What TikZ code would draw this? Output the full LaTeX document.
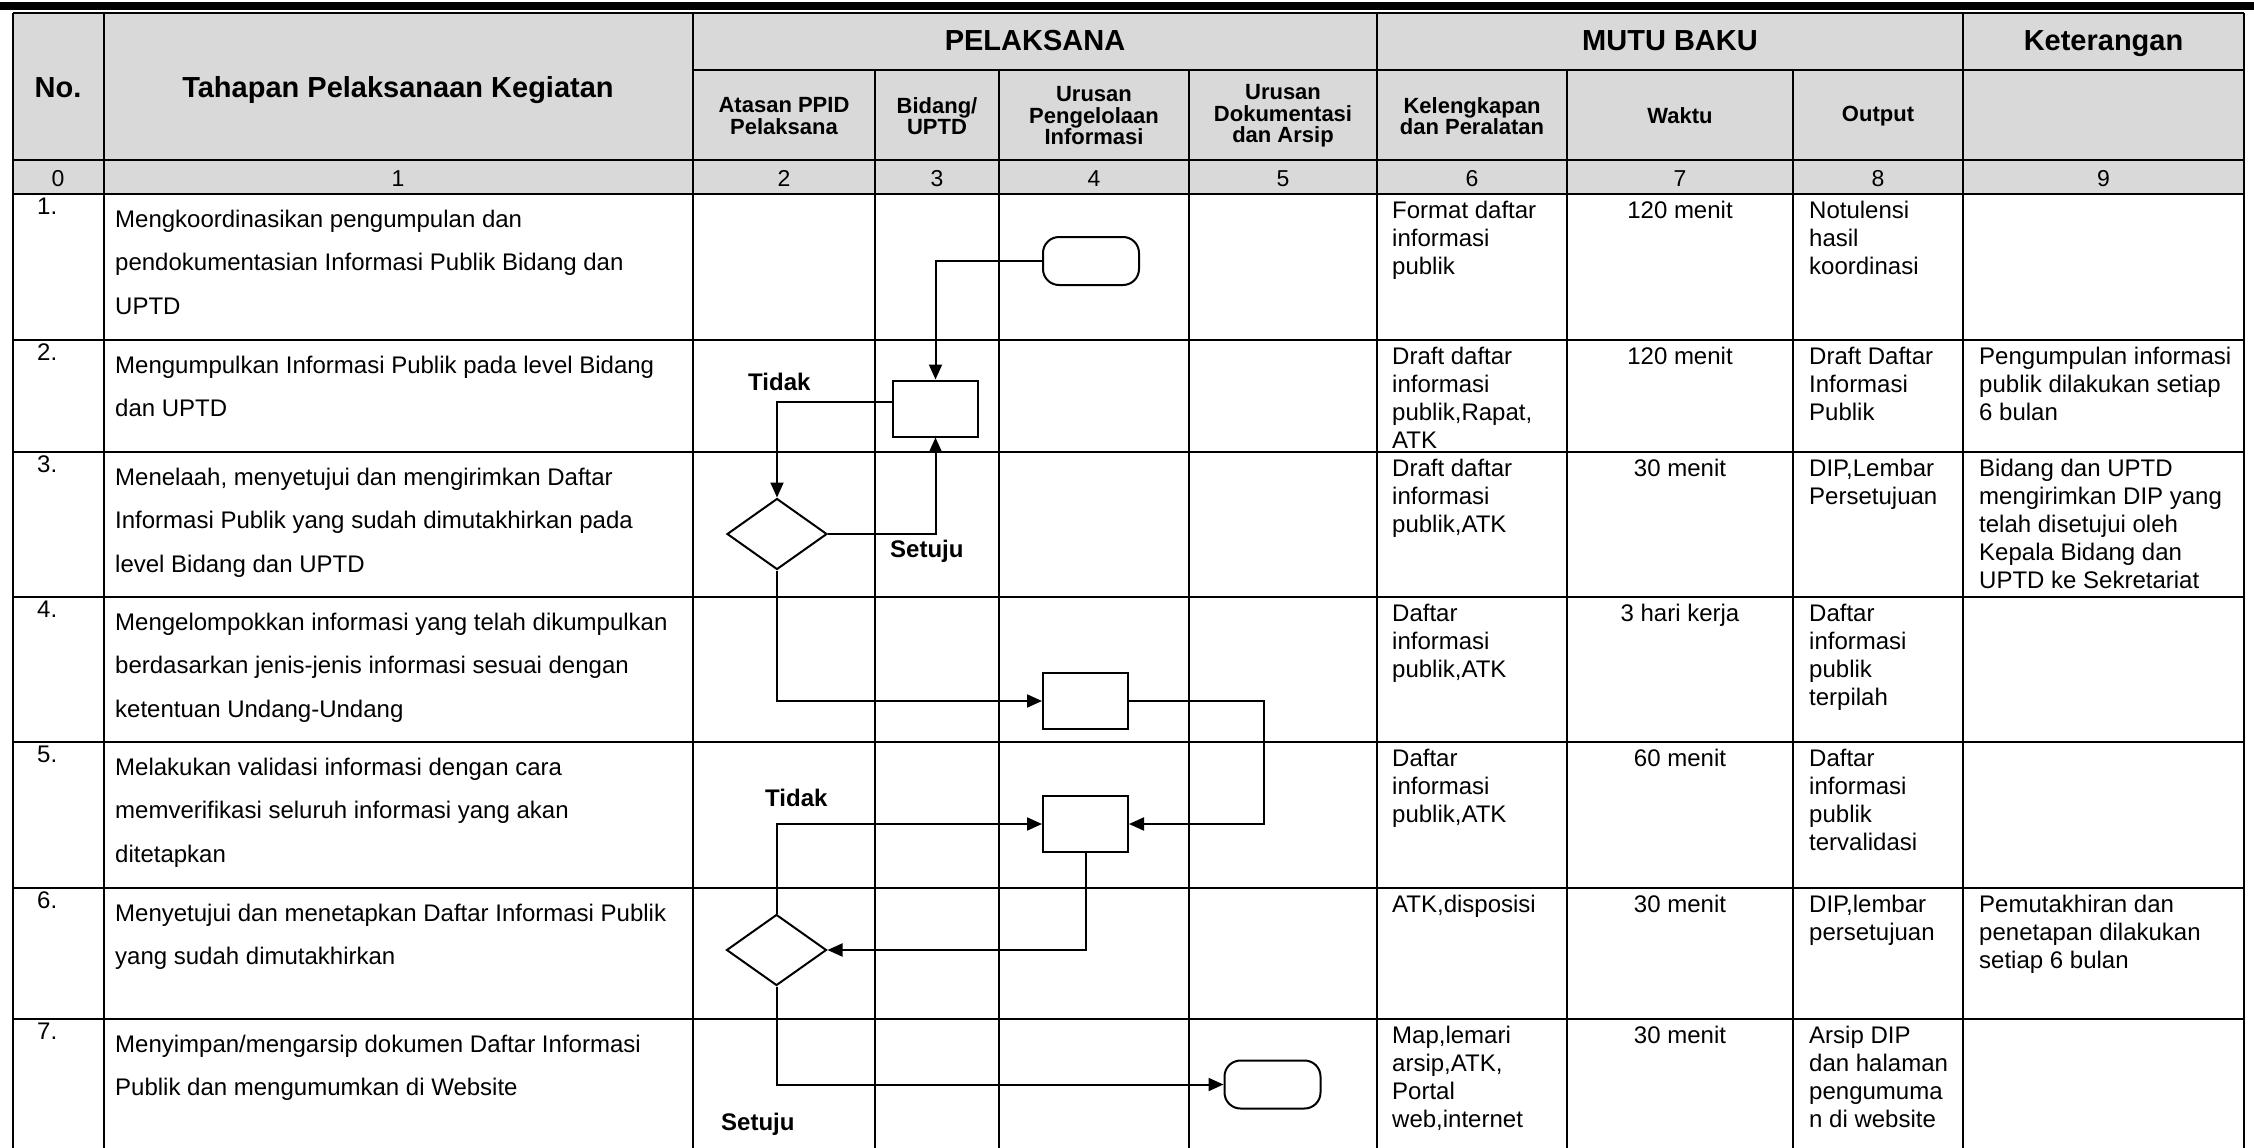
\documentclass[tikz,border=0pt]{standalone}
\usepackage{fontspec}
\setmainfont{Liberation Sans}
\usepackage{tikz}
\usetikzlibrary{arrows.meta,shapes.geometric}

\definecolor{headgray}{RGB}{217,217,217}
\newcommand{\cellrows}[1]{\begin{tabular}[t]{@{}l@{}}#1\end{tabular}}

\tikzset{
    tabline/.style={line width=2.8pt},
    bighead/.style={anchor=base, inner sep=0pt, font=\fontsize{29}{34}\selectfont\bfseries},
    subhead/.style={align=center, inner sep=0pt, font=\fontsize{22}{21.5}\selectfont\bfseries},
    colno/.style={anchor=base, inner sep=0pt, font=\fontsize{23}{26}\selectfont},
    stepno/.style={anchor=base west, inner sep=0pt, font=\fontsize{24}{28}\selectfont},
    steptext/.style={anchor=base west, inner sep=0pt, font=\fontsize{24}{43.5}\selectfont},
    celltext/.style={anchor=base west, inner sep=0pt, font=\fontsize{24}{28}\selectfont},
    timetext/.style={anchor=base, inner sep=0pt, font=\fontsize{24}{28}\selectfont},
    answer/.style={anchor=base west, inner sep=0pt, font=\fontsize{24}{28}\selectfont\bfseries},
    procbox/.style={draw, line width=2pt, minimum width=85pt, minimum height=56pt, inner sep=0pt},
    decbox/.style={draw, diamond, line width=2pt, minimum width=100pt, minimum height=71pt, inner sep=0pt},
    termbox/.style={draw, rounded corners=16pt, line width=2pt, minimum width=96pt, minimum height=48pt, inner sep=0pt},
    flowline/.style={line width=2pt, -{Triangle[length=15pt,width=13pt]}}
}

\begin{document}
\begin{tikzpicture}[x=1pt, y=-1pt]
        \useasboundingbox (0, 0) rectangle (2254, 1148);

        \fill[black] (0, 2) rectangle (2254, 10);
        \fill[headgray] (13, 13) rectangle (2244, 194);

        \node[bighead] (hno) at (58, 97) {No.};
        \node[bighead] (htahap) at (398, 97) {Tahapan Pelaksanaan Kegiatan};
        \node[bighead] (hpelaksana) at (1035, 51) {PELAKSANA};
        \node[bighead] (hmutu) at (1670, 51) {MUTU BAKU};
        \node[bighead] (hket) at (2103.5, 51) {Keterangan};

        \node[subhead] (hatasan) at (784, 116) {Atasan PPID\\Pelaksana};
        \node[subhead] (hbidang) at (937, 116) {Bidang/\\UPTD};
        \node[subhead] (hkelola) at (1094, 116) {Urusan\\Pengelolaan\\Informasi};
        \node[subhead] (hdok) at (1283, 116) {Urusan\\Dokumentasi\\dan Arsip};
        \node[subhead] (hkel) at (1472, 116) {Kelengkapan\\dan Peralatan};
        \node[subhead] (hwaktu) at (1680, 116) {Waktu};
        \node[subhead] (houtput) at (1878, 116) {Output};

        \node[colno] (c0) at (58, 186) {0};
        \node[colno] (c1) at (398, 186) {1};
        \node[colno] (c2) at (784, 186) {2};
        \node[colno] (c3) at (937, 186) {3};
        \node[colno] (c4) at (1094, 186) {4};
        \node[colno] (c5) at (1283, 186) {5};
        \node[colno] (c6) at (1472, 186) {6};
        \node[colno] (c7) at (1680, 186) {7};
        \node[colno] (c8) at (1878, 186) {8};
        \node[colno] (c9) at (2103.5, 186) {9};

        \node[stepno] (no1) at (37, 214) {1.};
        \node[stepno] (no2) at (37, 360) {2.};
        \node[stepno] (no3) at (37, 472) {3.};
        \node[stepno] (no4) at (37, 617) {4.};
        \node[stepno] (no5) at (37, 762) {5.};
        \node[stepno] (no6) at (37, 908) {6.};
        \node[stepno] (no7) at (37, 1039) {7.};

        \node[steptext] (st1) at (115, 227) {\cellrows{Mengkoordinasikan pengumpulan dan\\pendokumentasian Informasi Publik Bidang dan\\UPTD}};
        \node[steptext] (st2) at (115, 373) {\cellrows{Mengumpulkan Informasi Publik pada level Bidang\\dan UPTD}};
        \node[steptext] (st3) at (115, 485) {\cellrows{Menelaah, menyetujui dan mengirimkan Daftar\\Informasi Publik yang sudah dimutakhirkan pada\\level Bidang dan UPTD}};
        \node[steptext] (st4) at (115, 630) {\cellrows{Mengelompokkan informasi yang telah dikumpulkan\\berdasarkan jenis-jenis informasi sesuai dengan\\ketentuan Undang-Undang}};
        \node[steptext] (st5) at (115, 775) {\cellrows{Melakukan validasi informasi dengan cara\\memverifikasi seluruh informasi yang akan\\ditetapkan}};
        \node[steptext] (st6) at (115, 921) {\cellrows{Menyetujui dan menetapkan Daftar Informasi Publik\\yang sudah dimutakhirkan}};
        \node[steptext] (st7) at (115, 1052) {\cellrows{Menyimpan/mengarsip dokumen Daftar Informasi\\Publik dan mengumumkan di Website}};

        \node[celltext] (kel1) at (1392, 218) {\cellrows{Format daftar\\informasi\\publik}};
        \node[celltext] (kel2) at (1392, 364) {\cellrows{Draft daftar\\informasi\\publik,Rapat,\\ATK}};
        \node[celltext] (kel3) at (1392, 476) {\cellrows{Draft daftar\\informasi\\publik,ATK}};
        \node[celltext] (kel4) at (1392, 621) {\cellrows{Daftar\\informasi\\publik,ATK}};
        \node[celltext] (kel5) at (1392, 766) {\cellrows{Daftar\\informasi\\publik,ATK}};
        \node[celltext] (kel6) at (1392, 912) {ATK,disposisi};
        \node[celltext] (kel7) at (1392, 1043) {\cellrows{Map,lemari\\arsip,ATK,\\Portal\\web,internet}};

        \node[timetext] (wk1) at (1680, 218) {120 menit};
        \node[timetext] (wk2) at (1680, 364) {120 menit};
        \node[timetext] (wk3) at (1680, 476) {30 menit};
        \node[timetext] (wk4) at (1680, 621) {3 hari kerja};
        \node[timetext] (wk5) at (1680, 766) {60 menit};
        \node[timetext] (wk6) at (1680, 912) {30 menit};
        \node[timetext] (wk7) at (1680, 1043) {30 menit};

        \node[celltext] (out1) at (1809, 218) {\cellrows{Notulensi\\hasil\\koordinasi}};
        \node[celltext] (out2) at (1809, 364) {\cellrows{Draft Daftar\\Informasi\\Publik}};
        \node[celltext] (out3) at (1809, 476) {\cellrows{DIP,Lembar\\Persetujuan}};
        \node[celltext] (out4) at (1809, 621) {\cellrows{Daftar\\informasi\\publik\\terpilah}};
        \node[celltext] (out5) at (1809, 766) {\cellrows{Daftar\\informasi\\publik\\tervalidasi}};
        \node[celltext] (out6) at (1809, 912) {\cellrows{DIP,lembar\\persetujuan}};
        \node[celltext] (out7) at (1809, 1043) {\cellrows{Arsip DIP\\dan halaman\\pengumuma\\n di website}};

        \node[celltext] (ket2) at (1979, 364) {\cellrows{Pengumpulan informasi\\publik dilakukan setiap\\6 bulan}};
        \node[celltext] (ket3) at (1979, 476) {\cellrows{Bidang dan UPTD\\mengirimkan DIP yang\\telah disetujui oleh\\Kepala Bidang dan\\UPTD ke Sekretariat}};
        \node[celltext] (ket6) at (1979, 912) {\cellrows{Pemutakhiran dan\\penetapan dilakukan\\setiap 6 bulan}};

        \draw[tabline] (13, 13) -- (2244, 13);
        \draw[tabline] (693, 70) -- (2244, 70);
        \draw[tabline] (13, 160) -- (2244, 160);
        \draw[tabline] (13, 194) -- (2244, 194);
        \draw[tabline] (13, 340) -- (2244, 340);
        \draw[tabline] (13, 452) -- (2244, 452);
        \draw[tabline] (13, 597) -- (2244, 597);
        \draw[tabline] (13, 742) -- (2244, 742);
        \draw[tabline] (13, 888) -- (2244, 888);
        \draw[tabline] (13, 1019) -- (2244, 1019);

        \draw[tabline] (13, 13) -- (13, 1148);
        \draw[tabline] (104, 13) -- (104, 1148);
        \draw[tabline] (693, 13) -- (693, 1148);
        \draw[tabline] (875, 70) -- (875, 1148);
        \draw[tabline] (999, 70) -- (999, 1148);
        \draw[tabline] (1189, 70) -- (1189, 1148);
        \draw[tabline] (1377, 13) -- (1377, 1148);
        \draw[tabline] (1567, 70) -- (1567, 1148);
        \draw[tabline] (1793, 70) -- (1793, 1148);
        \draw[tabline] (1963, 13) -- (1963, 1148);
        \draw[tabline] (2244, 13) -- (2244, 1148);

        \node[termbox] (mulai) at (1091, 261) {};
        \node[procbox] (kumpul) at (935.5, 408.5) {};
        \node[decbox] (telaah) at (777, 534) {};
        \node[procbox] (kelompok) at (1085.5, 701) {};
        \node[procbox] (validasi) at (1085.5, 824) {};
        \node[decbox] (tetapkan) at (776.5, 950) {};
        \node[termbox] (selesai) at (1272.5, 1084.5) {};

        \node[answer] (tidak1) at (748, 390) {Tidak};
        \node[answer] (setuju1) at (890, 557) {Setuju};
        \node[answer] (tidak2) at (765, 806) {Tidak};
        \node[answer] (setuju2) at (721, 1130) {Setuju};

        \draw[flowline] (mulai.west) -| (kumpul.north);
        \draw[flowline] ([yshift=7pt]kumpul.west) -| (telaah.north);
        \draw[flowline] (telaah.east) -| (kumpul.south);
        \draw[flowline] (telaah.south) |- (kelompok.west);
        \draw[flowline] (kelompok.east) -- ++(135, 0) |- (validasi.east);
        \draw[flowline] (tetapkan.north) |- (validasi.west);
        \draw[flowline] (validasi.south) |- (tetapkan.east);
        \draw[flowline] (tetapkan.south) |- (selesai.west);
    \end{tikzpicture}
\end{document}
